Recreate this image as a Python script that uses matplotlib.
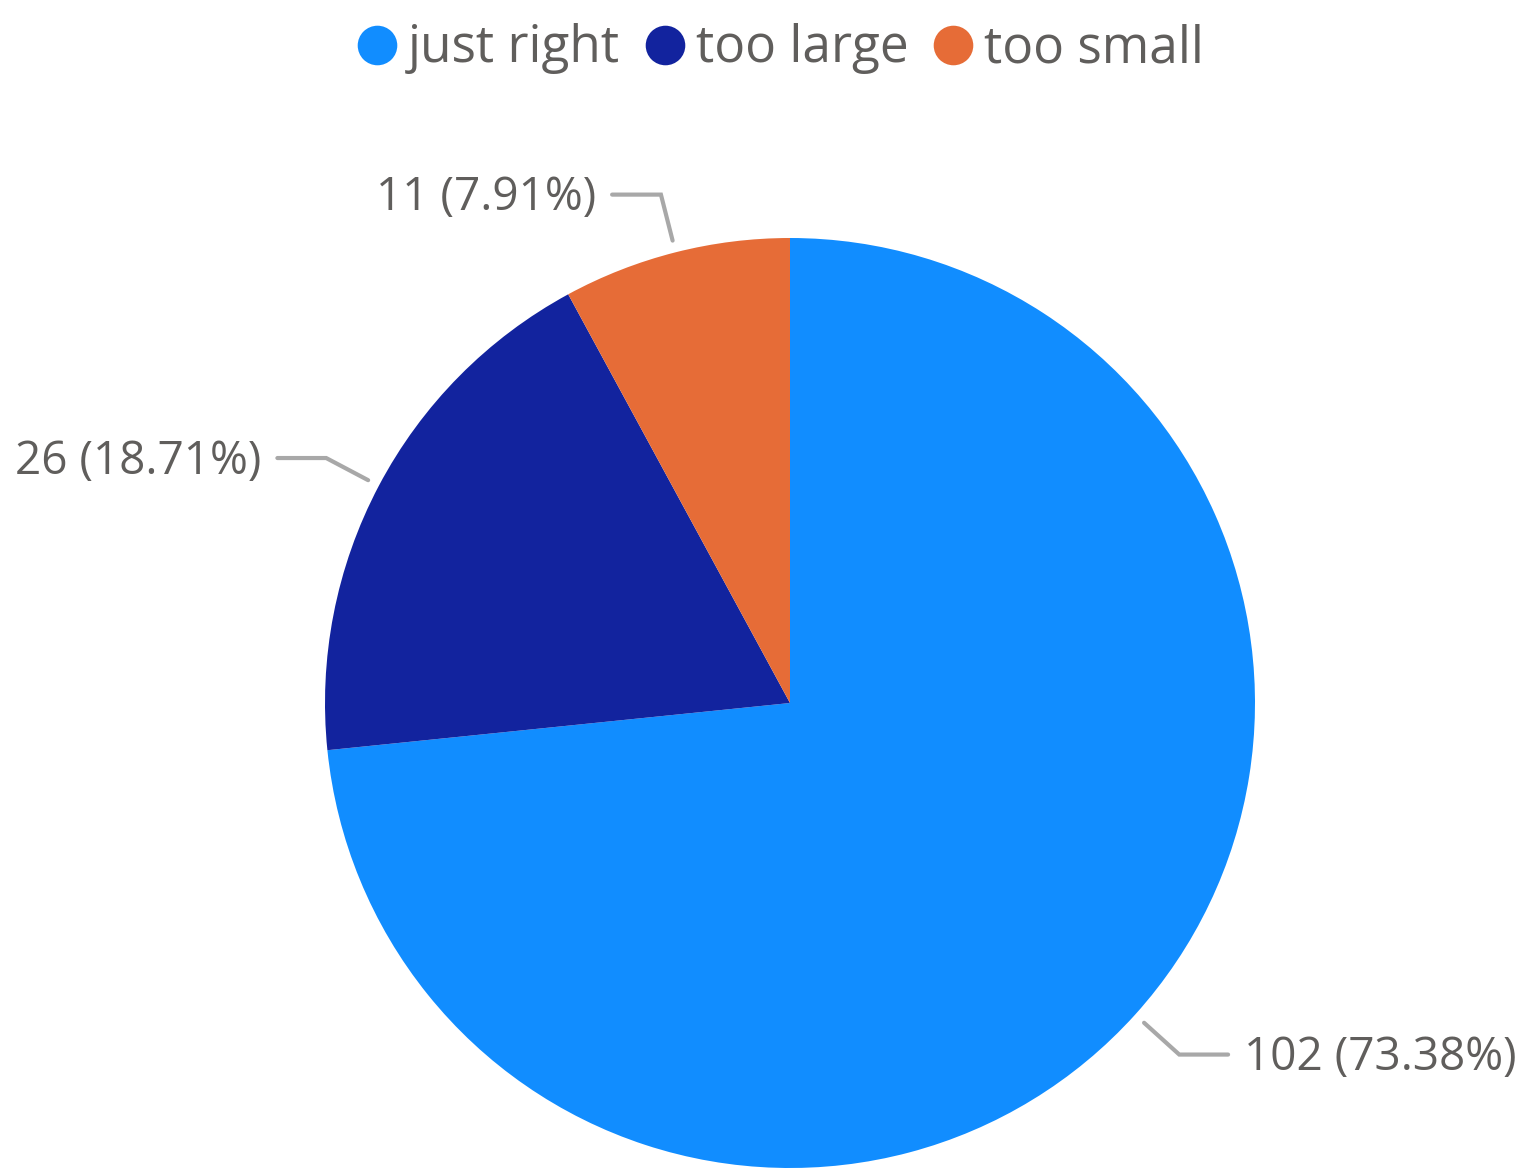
import numpy as np
import matplotlib
matplotlib.use("Agg")
import matplotlib.pyplot as plt
from matplotlib.lines import Line2D

categories = ["just right", "too large", "too small"]
values = [102, 26, 11]
percents = ["73.38%", "18.71%", "7.91%"]
colors = ["#118DFF", "#12239E", "#E66C37"]

plt.rcParams['font.family'] = ['Open Sans', 'DejaVu Sans']
TXT = "#605E5C"
LINE = "#A8A8A8"

W, H = 1537, 1169
fig = plt.figure(figsize=(W / 100, H / 100), dpi=100)
cx, cy, R = 790, 703, 465
ax = fig.add_axes([(cx - R) / W, (H - cy - R) / H, 2 * R / W, 2 * R / H])
wedges, _ = ax.pie(values, colors=colors, startangle=90, counterclock=False,
                   radius=1, wedgeprops=dict(linewidth=0))
ax.set_xlim(-1, 1)
ax.set_ylim(-1, 1)
ax.set_aspect('auto')
ax.axis('off')

for w, v, p in zip(wedges, values, percents):
    mid = np.deg2rad((w.theta1 + w.theta2) / 2)
    c, s = np.cos(mid), np.sin(mid)
    r0, r1 = 1.026, 1.128
    x0, y0 = r0 * c, r0 * s
    x1, y1 = r1 * c, r1 * s
    side = 1 if c > 0 else -1
    x2 = x1 + side * 0.105
    ax.plot([x0, x1, x2], [y0, y1, y1], color=LINE, lw=3, clip_on=False,
            solid_capstyle='round', solid_joinstyle='miter')
    ax.text(x2 + side * 0.035, y1 - 0.008, f"{v} ({p})", ha='left' if side > 0 else 'right',
            va='center', fontsize=33, color=TXT, clip_on=False)

handles = [Line2D([], [], marker='o', linestyle='none', markersize=28.5,
                  markerfacecolor=c, markeredgewidth=0) for c in colors]
fig.legend(handles, categories, loc='center', bbox_to_anchor=(781 / W, 1 - 49 / H),
           ncol=3, frameon=False, fontsize=37, labelcolor=TXT,
           handletextpad=0.22, columnspacing=0.5, handlelength=0.75, borderpad=0)

fig.savefig("out.png", dpi=100, facecolor="white")
